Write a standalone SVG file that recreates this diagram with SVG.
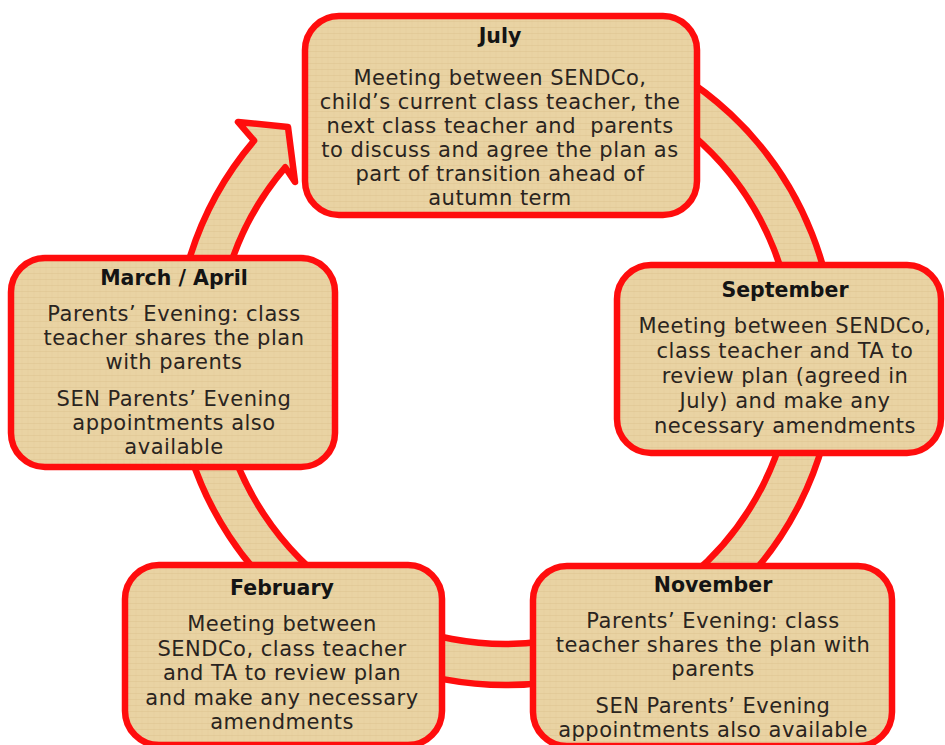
<svg xmlns="http://www.w3.org/2000/svg" width="945" height="745" viewBox="0 0 945 745">
<defs>
<pattern id="papyrus" patternUnits="userSpaceOnUse" width="12" height="12">
<rect width="12" height="12" fill="#e9d3a3"/>
<path d="M0 3.5H12M0 9.5H12" stroke="#d8bd88" stroke-width="0.8" opacity="0.45"/>
<path d="M4 0V12M10 0V12" stroke="#dcc292" stroke-width="0.7" opacity="0.35"/>
</pattern>
<style>
.box{fill:url(#papyrus);stroke:#ff0d0d;stroke-width:6.5}
.band{fill:url(#papyrus);stroke:#ff0d0d;stroke-width:6.5;stroke-linejoin:round}
.t{font-family:"DejaVu Sans","Liberation Sans",sans-serif;font-weight:bold;font-size:20.5px;fill:#141414;text-anchor:middle}
.b{font-family:"DejaVu Sans","Liberation Sans",sans-serif;font-size:21px;letter-spacing:0.5px;fill:#2a2420;text-anchor:middle}
</style>
</defs>
<rect width="945" height="745" fill="#ffffff"/>
<g id="connectors">
<path class="band" d="M254.1,140.7 L238,122 L288,127 L295,182 L285.2,167.3 A289,289 0 1 0 603.8,83.4 L617.9,44.9 A330,330 0 1 1 254.1,140.7 Z"/>
</g>
<g id="july">
<rect class="box" x="305" y="16" width="392" height="199" rx="34"/>
<text class="t" x="500" y="43">July</text>
<text class="b" x="500" y="85">Meeting between SENDCo,</text>
<text class="b" x="500" y="109">child’s current class teacher, the</text>
<text class="b" x="500" y="133" xml:space="preserve">next class teacher and  parents</text>
<text class="b" x="500" y="157">to discuss and agree the plan as</text>
<text class="b" x="500" y="181">part of transition ahead of</text>
<text class="b" x="500" y="205">autumn term</text>
</g>
<g id="september">
<rect class="box" x="617" y="265" width="324" height="188" rx="34"/>
<text class="t" x="785" y="297">September</text>
<text class="b" x="785" y="333">Meeting between SENDCo,</text>
<text class="b" x="785" y="358">class teacher and TA to</text>
<text class="b" x="785" y="383">review plan (agreed in</text>
<text class="b" x="785" y="408">July) and make any</text>
<text class="b" x="785" y="433">necessary amendments</text>
</g>
<g id="november">
<rect class="box" x="533" y="566" width="359" height="180" rx="34"/>
<text class="t" x="713" y="592">November</text>
<text class="b" x="713" y="628">Parents’ Evening: class</text>
<text class="b" x="713" y="652">teacher shares the plan with</text>
<text class="b" x="713" y="676">parents</text>
<text class="b" x="713" y="713">SEN Parents’ Evening</text>
<text class="b" x="713" y="737">appointments also available</text>
</g>
<g id="february">
<rect class="box" x="125" y="565" width="317" height="180" rx="34"/>
<text class="t" x="282" y="595">February</text>
<text class="b" x="282" y="631">Meeting between</text>
<text class="b" x="282" y="656">SENDCo, class teacher</text>
<text class="b" x="282" y="680">and TA to review plan</text>
<text class="b" x="282" y="705">and make any necessary</text>
<text class="b" x="282" y="729">amendments</text>
</g>
<g id="march-april">
<rect class="box" x="11" y="258" width="324" height="209" rx="34"/>
<text class="t" x="174" y="285">March / April</text>
<text class="b" x="174" y="321">Parents’ Evening: class</text>
<text class="b" x="174" y="345">teacher shares the plan</text>
<text class="b" x="174" y="369">with parents</text>
<text class="b" x="174" y="406">SEN Parents’ Evening</text>
<text class="b" x="174" y="430">appointments also</text>
<text class="b" x="174" y="454">available</text>
</g>
</svg>
